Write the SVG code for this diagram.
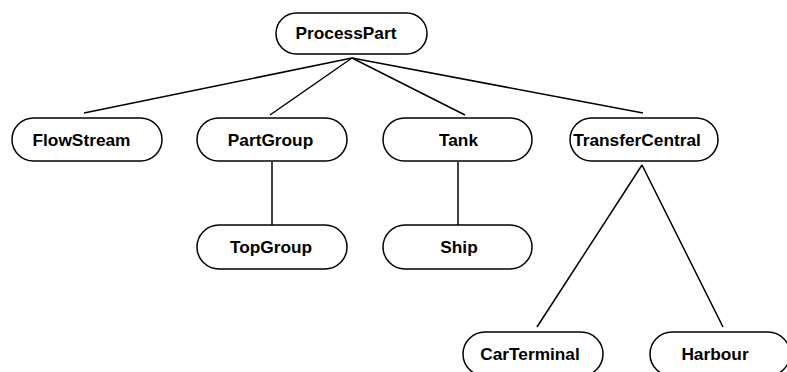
<svg xmlns="http://www.w3.org/2000/svg" width="787" height="372" viewBox="0 0 787 372">
<style>
.n rect{fill:#fff;stroke:#000;stroke-width:1.5}
.n text{font-family:"Liberation Sans",Arial,sans-serif;font-weight:bold;font-size:17.3px;text-anchor:middle;fill:#000}
#edges line{stroke:#000;stroke-width:1.5}
</style>
<rect width="787" height="372" fill="#fff"/>
<g id="edges">
<line x1="352" y1="58" x2="84" y2="113"/>
<line x1="352" y1="58" x2="270" y2="115"/>
<line x1="352" y1="58" x2="465" y2="115"/>
<line x1="352" y1="58" x2="643" y2="113"/>
<line x1="272" y1="162" x2="272" y2="225"/>
<line x1="458" y1="162" x2="458" y2="225"/>
<line x1="642" y1="165" x2="537" y2="327"/>
<line x1="642" y1="165" x2="723" y2="327"/>
</g>
<g id="ProcessPart" class="n"><rect x="276" y="13" width="151" height="41" rx="20.5"/><text x="346" y="39">ProcessPart</text></g>
<g id="FlowStream" class="n"><rect x="12" y="118" width="150" height="43" rx="21.5"/><text x="81.5" y="146">FlowStream</text></g>
<g id="PartGroup" class="n"><rect x="197" y="118" width="150" height="43" rx="21.5"/><text x="270.5" y="146">PartGroup</text></g>
<g id="Tank" class="n"><rect x="383" y="118" width="149" height="43" rx="21.5"/><text x="458.5" y="146">Tank</text></g>
<g id="TransferCentral" class="n"><rect x="570" y="118" width="148" height="43" rx="21.5"/><text x="637" y="146">TransferCentral</text></g>
<g id="TopGroup" class="n"><rect x="197" y="225" width="150" height="44" rx="22"/><text x="271" y="253">TopGroup</text></g>
<g id="Ship" class="n"><rect x="383" y="225" width="149" height="44" rx="22"/><text x="459" y="253">Ship</text></g>
<g id="CarTerminal" class="n"><rect x="463" y="332" width="140" height="44" rx="22"/><text x="530" y="360">CarTerminal</text></g>
<g id="Harbour" class="n"><rect x="650" y="332" width="140" height="44" rx="22"/><text x="715" y="360">Harbour</text></g>
</svg>
